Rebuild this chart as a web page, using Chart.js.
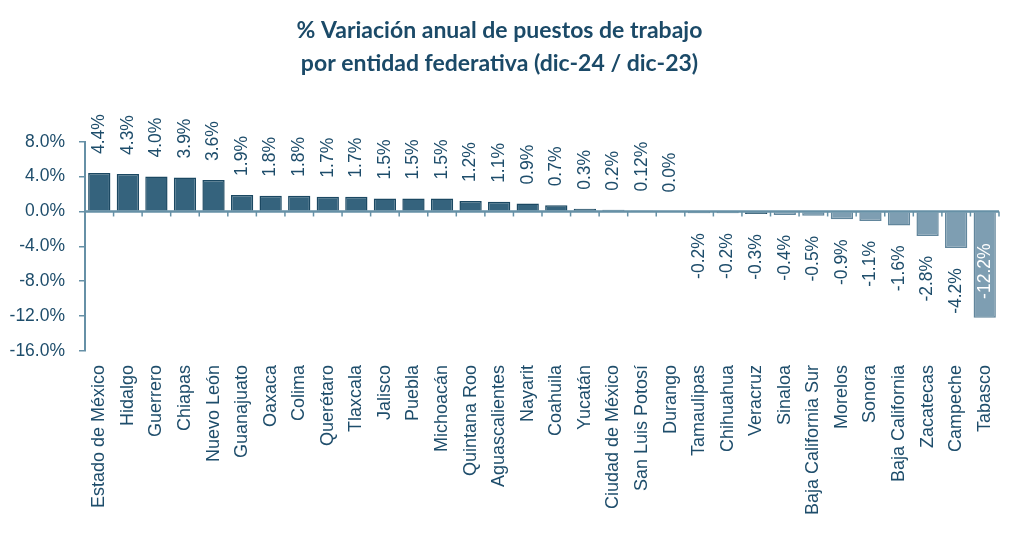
<!DOCTYPE html>
<html lang="es">
<head>
<meta charset="utf-8">
<title>Variación anual de puestos de trabajo</title>
<script src="https://cdn.jsdelivr.net/npm/chart.js@4"></script>
<style>
    html, body { margin: 0; padding: 0; background: #ffffff; }
    #wrap { width: 1024px; height: 550px; position: relative; }
</style>
</head>
<body>
<div id="wrap"><canvas id="chart"></canvas></div>
<script>
const estados = [
    'Estado de México', 'Hidalgo', 'Guerrero', 'Chiapas', 'Nuevo León', 'Guanajuato',
    'Oaxaca', 'Colima', 'Querétaro', 'Tlaxcala', 'Jalisco', 'Puebla', 'Michoacán',
    'Quintana Roo', 'Aguascalientes', 'Nayarit', 'Coahuila', 'Yucatán', 'Ciudad de México',
    'San Luis Potosí', 'Durango', 'Tamaulipas', 'Chihuahua', 'Veracruz', 'Sinaloa',
    'Baja California Sur', 'Morelos', 'Sonora', 'Baja California', 'Zacatecas',
    'Campeche', 'Tabasco'
];
const variacion = [
    4.4, 4.3, 4.0, 3.9, 3.6, 1.9,
    1.8, 1.8, 1.7, 1.7, 1.5, 1.5, 1.5,
    1.2, 1.1, 0.9, 0.7, 0.3, 0.2,
    0.12, 0.0, -0.2, -0.2, -0.3, -0.4,
    -0.5, -0.9, -1.1, -1.6, -2.8,
    -4.2, -12.2
];
const yTicks = [8, 4, 0, -4, -8, -12, -16];
const titleLines = ['% Variación anual de puestos de trabajo', 'por entidad federativa (dic-24 / dic-23)'];

const DARK = '#35637d';
const DARK_EDGE = '#1b4862';
const LIGHT = '#7e9eb2';
const LIGHT_EDGE = '#62869c';
const TEXT = '#1e4d6b';
const AXIS = '#6690a6';
const lastDark = 23; // Veracruz is the last bar in the dark shade

function formatPct(v) {
    const oneDecimal = Math.abs(Math.round(v * 10) - v * 10) < 1e-9;
    return (oneDecimal ? v.toFixed(1) : v.toFixed(2)) + '%';
}

const zeroLine = {
    id: 'zeroLine',
    afterDatasetsDraw(chart) {
        const { ctx, chartArea } = chart;
        const x = chart.scales.x;
        const y0 = chart.scales.y.getPixelForValue(0);
        ctx.save();
        ctx.strokeStyle = AXIS;
        ctx.lineWidth = 2.5;
        ctx.beginPath();
        ctx.moveTo(chartArea.left, y0);
        ctx.lineTo(chartArea.right, y0);
        ctx.stroke();
        ctx.lineWidth = 1.5;
        for (let i = 1; i <= estados.length; i++) {
            const bx = i < estados.length
                ? (x.getPixelForValue(i - 1) + x.getPixelForValue(i)) / 2
                : chartArea.right;
            ctx.beginPath();
            ctx.moveTo(bx, y0);
            ctx.lineTo(bx, y0 + 5);
            ctx.stroke();
        }
        ctx.restore();
    }
};

const valueLabels = {
    id: 'valueLabels',
    afterDatasetsDraw(chart) {
        const ctx = chart.ctx;
        const meta = chart.getDatasetMeta(0);
        const base = chart.scales.y.getPixelForValue(0);
        ctx.save();
        ctx.font = '17.5px "Liberation Sans", Arial, sans-serif';
        ctx.textBaseline = 'middle';
        meta.data.forEach((bar, i) => {
            const v = variacion[i];
            ctx.save();
            if (v >= 0) {
                ctx.translate(bar.x, bar.y - 19);
                ctx.rotate(-Math.PI / 2);
                ctx.textAlign = 'left';
                ctx.fillStyle = TEXT;
            } else if (v < -8) {
                // long bar: label sits inside, near the axis
                ctx.translate(bar.x, base + 32);
                ctx.rotate(-Math.PI / 2);
                ctx.textAlign = 'right';
                ctx.fillStyle = '#ffffff';
            } else {
                ctx.translate(bar.x, bar.y + 20);
                ctx.rotate(-Math.PI / 2);
                ctx.textAlign = 'right';
                ctx.fillStyle = TEXT;
            }
            ctx.fillText(formatPct(v), 0, 0);
            ctx.restore();
        });
        ctx.restore();
    }
};

const ctx = document.getElementById('chart').getContext('2d');
new Chart(ctx, {
    type: 'bar',
    data: {
        labels: estados,
        datasets: [{
            data: variacion,
            backgroundColor: (c) => c.dataIndex <= lastDark ? DARK : LIGHT,
            borderColor: (c) => c.dataIndex <= lastDark ? DARK_EDGE : LIGHT_EDGE,
            borderWidth: 1.5,
            barPercentage: 0.78,
            categoryPercentage: 1.0
        }]
    },
    options: {
        responsive: true,
        maintainAspectRatio: false,
        animation: false,
        devicePixelRatio: 1,
        layout: { padding: { left: 0, right: 25, top: 0, bottom: 0 } },
        plugins: {
            legend: { display: false },
            tooltip: { enabled: false },
            title: {
                display: true,
                text: titleLines,
                color: '#1b4a68',
                font: { family: 'Lato, "Open Sans", sans-serif', size: 23, weight: 'bold', lineHeight: 1.45 },
                padding: { top: 14, bottom: 61 }
            }
        },
        scales: {
            x: {
                grid: { display: false, drawTicks: false },
                border: { display: false },
                ticks: {
                    autoSkip: false,
                    maxRotation: 90,
                    minRotation: 90,
                    padding: 14,
                    color: TEXT,
                    font: { family: '"Liberation Sans", Arial, sans-serif', size: 18 }
                },
                afterFit: (scale) => { scale.height = 199; }
            },
            y: {
                min: -16,
                max: 8,
                afterBuildTicks: (scale) => { scale.ticks = yTicks.map(v => ({ value: v })); },
                grid: { drawOnChartArea: false, drawTicks: true, tickLength: 6, color: AXIS, lineWidth: 1.5 },
                border: { display: true, color: AXIS, width: 2 },
                ticks: {
                    padding: 14,
                    color: TEXT,
                    font: { family: '"Liberation Sans", Arial, sans-serif', size: 17.5 },
                    callback: (v) => v.toFixed(1) + '%'
                },
                afterFit: (scale) => { scale.width = 85; }
            }
        }
    },
    plugins: [zeroLine, valueLabels]
});
</script>
</body>
</html>
